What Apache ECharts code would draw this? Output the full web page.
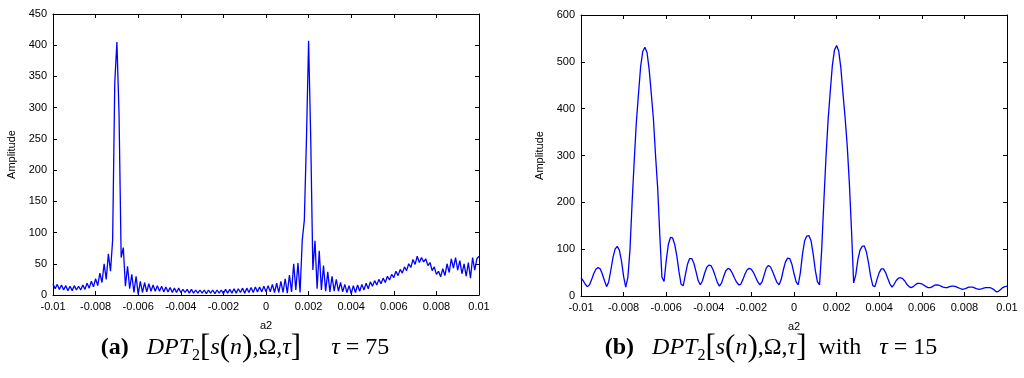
<!DOCTYPE html>
<html><head><meta charset="utf-8">
<script src="https://cdn.jsdelivr.net/npm/echarts@6/dist/echarts.min.js"></script>
<style>html,body{margin:0;padding:0;background:#fff}#c{width:1024px;height:378px}</style>
</head><body><div id="c"></div>
<script>
// sample grid of a2 (x axis)
const xMin = -0.01, xMax = 0.01, xStep = 0.0001;
const xTickLabels = ['-0.01','-0.008','-0.006','-0.004','-0.002','0','0.002','0.004','0.006','0.008','0.01'];
const xTickInterval = 0.002;

// (a) tau = 75
const ampA = [
 18,10,17,9,16,8,15,7,14,7,
 15,8,14,8,16,9,19,11,22,13,
 26,15,35,20,50,25,66,38,88,340,
 405,290,60,76,14,46,10,33,4,30,
 1,22,4,20,5,18,6,16,6,15,
 6,14,5,13,5,12,4,11,4,11,
 4,9,4,9,3,9,3,8,3,8,
 3,8,2,8,3,8,2,8,3,8,
 2,9,3,9,3,10,3,10,4,11,
 3,11,4,12,4,13,5,13,5,14,
 5,15,5,17,4,19,4,22,4,26,
 3,32,5,50,8,51,4,87,120,250,
 407,250,40,87,10,71,8,47,6,37,
 5,30,6,25,6,20,5,17,4,15,
 2,15,4,16,6,17,8,19,10,21,
 14,23,16,25,18,27,20,30,24,33,
 28,38,31,41,35,45,39,50,44,57,
 49,62,52,60,53,58,47,52,39,45,
 33,38,29,42,31,50,36,58,43,60,
 40,55,34,50,30,52,27,60,40,58,
 62
];

// (b) tau = 15
const ampB = [
 39,33,25,20,24,35,48,57,61,58,
 47,33,20,30,55,82,100,106,98,75,
 42,19,40,99,200,290,372,432,490,522,
 531,520,484,432,378,300,230,130,40,31,
 75,110,125,124,110,85,52,25,22,45,
 68,80,80,70,52,33,24,32,48,61,
 66,65,56,43,29,21,28,42,54,59,
 57,49,39,30,24,25,35,47,56,59,
 57,50,40,30,24,30,45,60,65,62,
 52,40,29,24,35,56,73,81,80,68,
 48,30,24,50,90,118,128,129,118,90,
 55,30,24,99,200,295,375,435,492,525,
 535,523,487,432,380,320,240,140,28,45,
 78,98,106,107,94,70,42,22,20,36,
 50,58,58,50,38,26,19,25,33,38,
 39,37,32,25,20,18,20,24,27,27,
 26,23,20,18,18,20,23,24,23,21,
 19,18,18,20,21,21,20,18,16,14,
 15,17,19,19,19,17,15,14,15,17,
 18,18,18,16,13,9,10,14,18,20,
 21
];

const yMaxA = 450, yIntA = 50;
const yMaxB = 600, yIntB = 100;

function toPairs(arr){ return arr.map((v,i)=>[+(xMin + i*xStep).toFixed(5), v]); }

const tickFont = {fontFamily:'Liberation Sans, Arial, sans-serif', fontSize:11, color:'#000'};

function xAxes(gi){
  const base = {type:'value', gridIndex:gi, min:xMin, max:xMax, interval:xTickInterval,
    splitLine:{show:false}, axisLine:{show:true, onZero:false, lineStyle:{color:'#000',width:1}},
    axisTick:{show:true, inside:true, length:4, lineStyle:{color:'#000',width:1}}};
  return [
    Object.assign({}, base, {position:'bottom',
      axisLabel:Object.assign({margin:6, formatter:(v)=>xTickLabels[Math.round((v-xMin)/xTickInterval)]}, tickFont),
      name:'a2', nameLocation:'middle', nameGap:25, nameTextStyle:tickFont}),
    Object.assign({}, base, {position:'top', axisLabel:{show:false}})
  ];
}
function yAxes(gi, yMax, yInt){
  const base = {type:'value', gridIndex:gi, min:0, max:yMax, interval:yInt,
    splitLine:{show:false}, axisLine:{show:true, onZero:false, lineStyle:{color:'#000',width:1}},
    axisTick:{show:true, inside:true, length:4, lineStyle:{color:'#000',width:1}}};
  return [
    Object.assign({}, base, {position:'left',
      axisLabel:Object.assign({margin:6}, tickFont),
      name:'Amplitude', nameLocation:'middle', nameGap:36, nameRotate:90, nameTextStyle:tickFont}),
    Object.assign({}, base, {position:'right', axisLabel:{show:false}})
  ];
}

const serif = 'Liberation Serif, Times New Roman, serif';
const rich = {
  b:{fontFamily:serif, fontSize:24, fontWeight:'bold', color:'#000'},
  r:{fontFamily:serif, fontSize:24, color:'#000'},
  i:{fontFamily:serif, fontSize:24, fontStyle:'italic', color:'#000'},
  sub:{fontFamily:serif, fontSize:16, color:'#000', padding:[16,0,0,0]},
  br:{fontFamily:serif, fontSize:31, color:'#000'}
};
const capA = '{b|(a)}{r|   }{i|DPT}{sub|2}{br|[}{i|s}{br|(}{i|n}{br|)}{r|,Ω,}{i|τ}{br|]}{r|     }{i|τ}{r| = 75}';
const capB = '{b|(b)}{r|   }{i|DPT}{sub|2}{br|[}{i|s}{br|(}{i|n}{br|)}{r|,Ω,}{i|τ}{br|]}{r|  with   }{i|τ}{r| = 15}';

const chart = echarts.init(document.getElementById('c'), null, {renderer:'canvas'});
chart.setOption({
  animation:false,
  backgroundColor:'#fff',
  grid:[
    {left:53, top:14, width:426, height:281},
    {left:581, top:15, width:426, height:281}
  ],
  xAxis:[...xAxes(0), ...xAxes(1)],
  yAxis:[...yAxes(0,yMaxA,yIntA), ...yAxes(1,yMaxB,yIntB)],
  series:[
    {type:'line', xAxisIndex:0, yAxisIndex:0, data:toPairs(ampA), symbol:'none', showSymbol:false,
     lineStyle:{color:'#0000ff', width:1.3}, clip:true},
    {type:'line', xAxisIndex:2, yAxisIndex:2, data:toPairs(ampB), symbol:'none', showSymbol:false,
     lineStyle:{color:'#0000ff', width:1.3}, clip:true}
  ],
  graphic:[
    {type:'text', x:245, y:348, style:{text:capA, rich:rich, align:'center', verticalAlign:'middle'}},
    {type:'text', x:771, y:348, style:{text:capB, rich:rich, align:'center', verticalAlign:'middle'}}
  ]
});
</script></body></html>
